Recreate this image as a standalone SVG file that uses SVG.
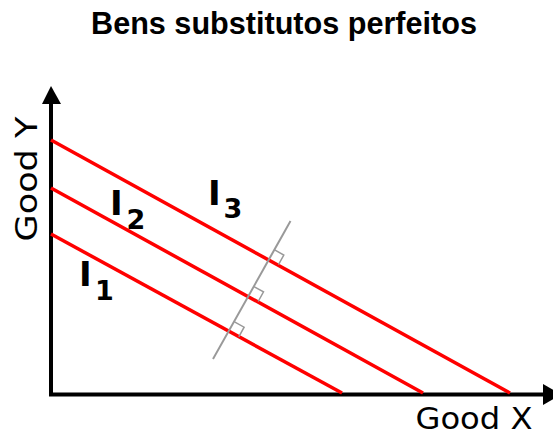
<svg xmlns="http://www.w3.org/2000/svg" width="553" height="435" viewBox="0 0 553 435">
<style>
.axis{stroke:#000;stroke-width:4;fill:none}
.head{fill:#000;stroke:none}
.curve{stroke:#ff0000;stroke-width:3.5;fill:none}
.perp{stroke:#999;stroke-width:2;fill:none}
.mark{stroke:#999;stroke-width:1.5;fill:none}
.lbl{font-family:"DejaVu Sans",sans-serif;font-weight:bold;fill:#000}
.ax{font-family:"DejaVu Sans",sans-serif;font-size:29.5px;fill:#000}
.title{font-family:"Liberation Sans",Arial,sans-serif;font-weight:bold;font-size:30.6px;fill:#000}
</style>
<rect width="553" height="435" fill="#fff"/>
<text class="title" x="284" y="34" text-anchor="middle">Bens substitutos perfeitos</text>
<g id="axes">
<line class="axis" x1="51" y1="396" x2="51" y2="100"/>
<polygon class="head" points="51,86 42,104 61,104"/>
<line class="axis" x1="49" y1="394.5" x2="545" y2="394.5"/>
<polygon class="head" points="561,394.5 543,384 543,405"/>
<text class="ax" x="415.5" y="429" textLength="117" lengthAdjust="spacingAndGlyphs">Good X</text>
<text class="ax" transform="translate(37,241.5) rotate(-90)" textLength="125" lengthAdjust="spacingAndGlyphs">Good Y</text>
</g>
<g id="I1">
<line class="curve" x1="51" y1="234" x2="342" y2="393"/>
<text class="lbl" x="79" y="286" font-size="34">I</text>
<text class="lbl" x="95" y="300" font-size="27">1</text>
</g>
<g id="I2">
<line class="curve" x1="51" y1="188" x2="423" y2="393"/>
<text class="lbl" x="110" y="215" font-size="34">I</text>
<text class="lbl" x="126.5" y="229" font-size="27">2</text>
</g>
<g id="I3">
<line class="curve" x1="51" y1="140" x2="510" y2="393"/>
<text class="lbl" x="208" y="205" font-size="34">I</text>
<text class="lbl" x="223.5" y="218" font-size="27">3</text>
</g>
<g id="connectors">
<line class="perp" x1="290.5" y1="221" x2="213" y2="359"/>
<polyline class="mark" points="274.2,249.7 283.8,255 278.5,264.6"/>
<polyline class="mark" points="253.9,286.6 263.5,291.9 258.2,301.5"/>
<polyline class="mark" points="234.5,321.9 244.1,327.2 238.8,336.8"/>
</g>
</svg>
